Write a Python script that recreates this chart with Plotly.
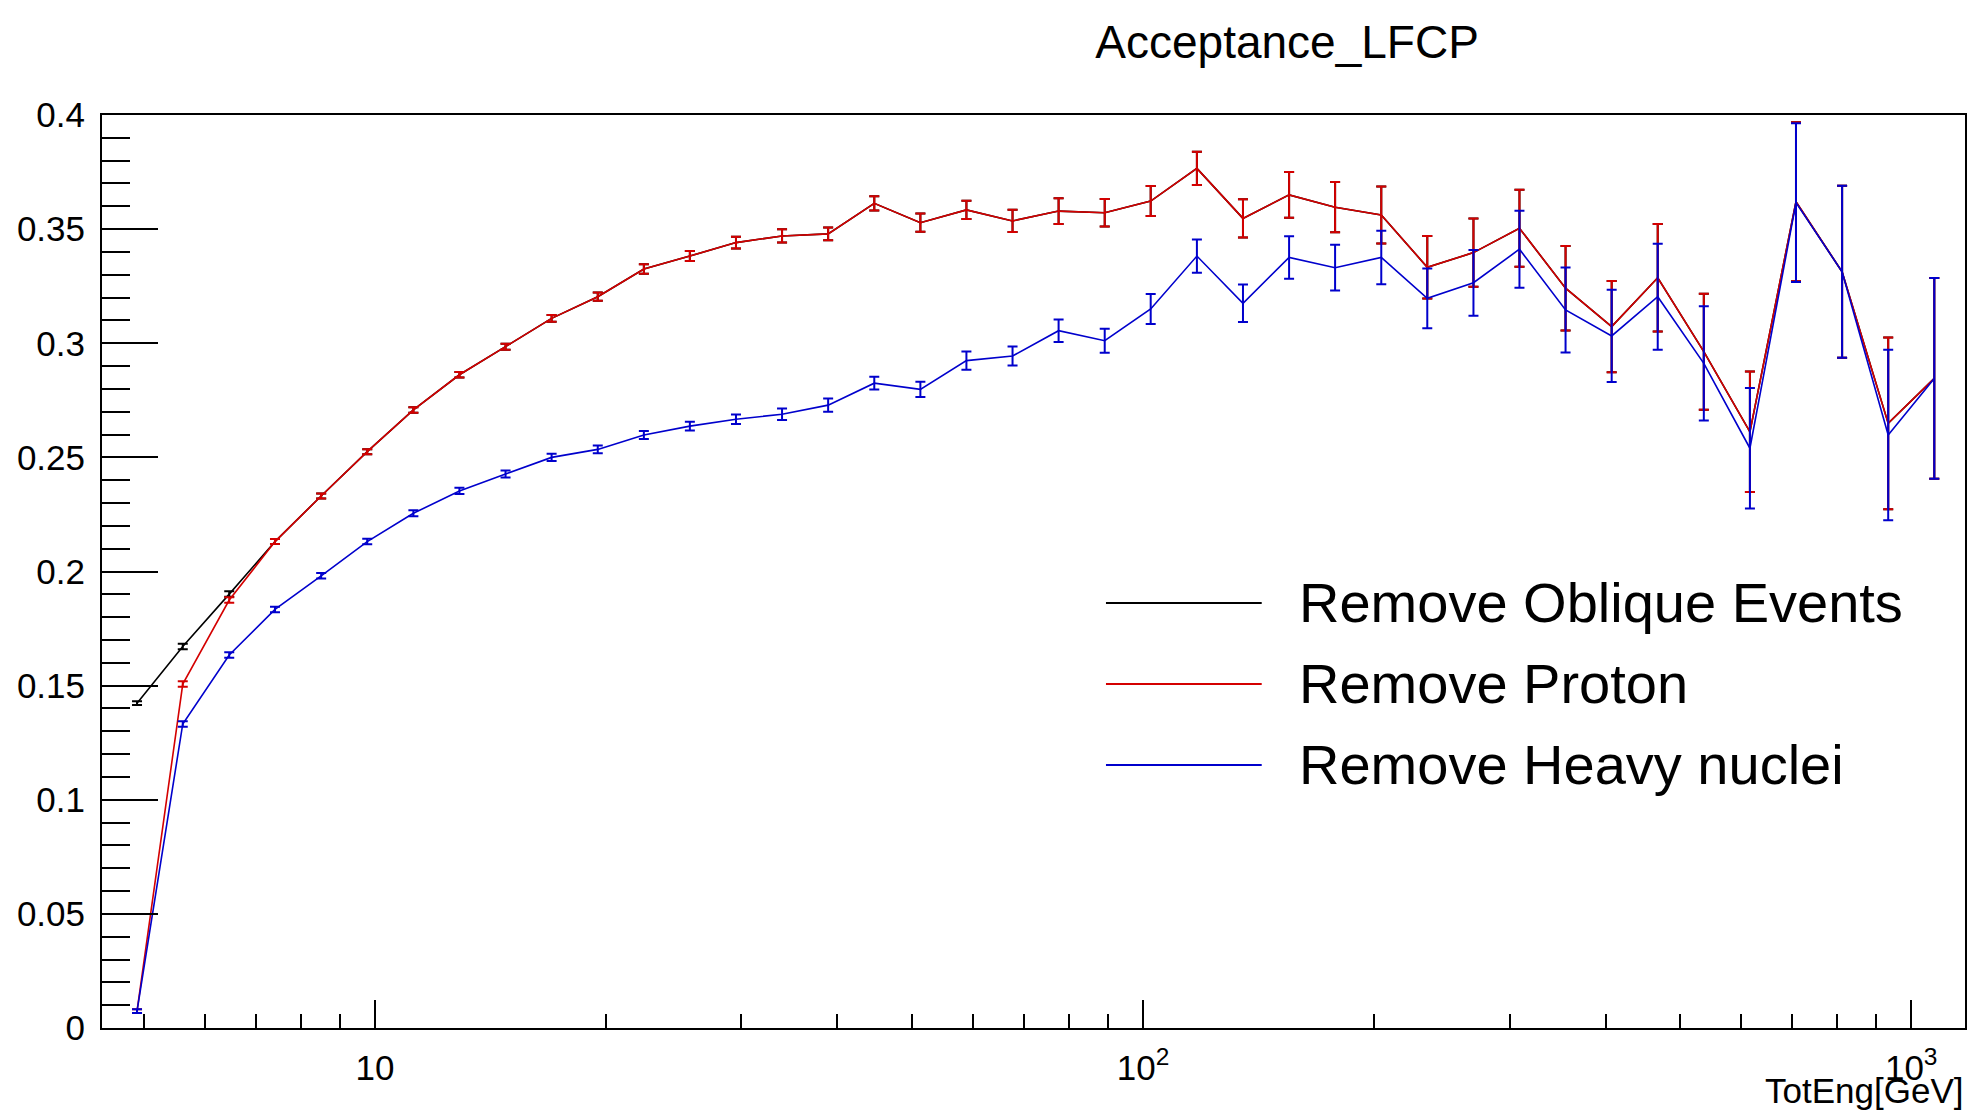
import plotly.graph_objects as go

# bin centres in GeV
energy = [4.90, 5.62, 6.46, 7.41, 8.51, 9.77, 11.22, 12.88, 14.79, 16.98,
          19.50, 22.39, 25.70, 29.51, 33.88, 38.90, 44.67, 51.29, 58.88, 67.61,
          77.62, 89.13, 102.3, 117.5, 134.9, 154.9, 177.8, 204.2, 234.4, 269.2,
          309.0, 354.8, 407.4, 467.7, 537.0, 616.6, 707.9, 812.8, 933.3, 1071.5]

proton = [0.0074, 0.1507, 0.1875, 0.2131, 0.2331, 0.2525, 0.2708, 0.2862, 0.2985, 0.3109,
          0.3204, 0.3325, 0.3382, 0.3441, 0.3470, 0.3479, 0.3613, 0.3528, 0.3584, 0.3536,
          0.3579, 0.3572, 0.3623, 0.3766, 0.3547, 0.3650, 0.3596, 0.3562, 0.3333, 0.3397,
          0.3504, 0.3241, 0.3073, 0.3287, 0.2963, 0.2612, 0.3620, 0.3313, 0.2649, 0.2846]
proton_err = [0.0008, 0.0012, 0.0012, 0.0011, 0.0011, 0.0011, 0.0012, 0.0012, 0.0013, 0.0015,
              0.0018, 0.0021, 0.0022, 0.0026, 0.0029, 0.0028, 0.0031, 0.0040, 0.0040, 0.0049,
              0.0056, 0.0060, 0.0066, 0.0073, 0.0084, 0.0100, 0.0110, 0.0125, 0.0137, 0.0150,
              0.0169, 0.0185, 0.0200, 0.0236, 0.0254, 0.0264, 0.0348, 0.0377, 0.0376, 0.0440]

# oblique events: differs from proton only in the first bins
oblique = [0.1423, 0.1671, 0.1901, 0.2131, 0.2331, 0.2525, 0.2708, 0.2862, 0.2985, 0.3109,
           0.3204, 0.3325, 0.3382, 0.3441, 0.3470, 0.3479, 0.3613, 0.3528, 0.3584, 0.3536,
           0.3579, 0.3572, 0.3623, 0.3766, 0.3547, 0.3650, 0.3596, 0.3562, 0.3333, 0.3397,
           0.3504, 0.3241, 0.3073, 0.3287, 0.2963, 0.2612, 0.3620, 0.3313, 0.2649, 0.2846]
oblique_err = [0.0008, 0.0012, 0.0012, 0.0011, 0.0011, 0.0011, 0.0012, 0.0012, 0.0013, 0.0015,
               0.0018, 0.0021, 0.0022, 0.0026, 0.0029, 0.0028, 0.0031, 0.0040, 0.0040, 0.0049,
               0.0056, 0.0060, 0.0066, 0.0073, 0.0084, 0.0100, 0.0110, 0.0125, 0.0137, 0.0150,
               0.0169, 0.0185, 0.0200, 0.0236, 0.0254, 0.0264, 0.0348, 0.0377, 0.0376, 0.0440]

heavy = [0.0074, 0.1332, 0.1634, 0.1834, 0.1981, 0.2131, 0.2255, 0.2353, 0.2427, 0.2500,
         0.2535, 0.2598, 0.2637, 0.2667, 0.2689, 0.2729, 0.2825, 0.2798, 0.2924, 0.2944,
         0.3055, 0.3011, 0.3150, 0.3382, 0.3175, 0.3376, 0.3331, 0.3376, 0.3197, 0.3265,
         0.3412, 0.3146, 0.3032, 0.3204, 0.2912, 0.2540, 0.3616, 0.3313, 0.2598, 0.2846]
heavy_err = [0.0008, 0.0012, 0.0012, 0.0012, 0.0012, 0.0012, 0.0013, 0.0014, 0.0015, 0.0016,
             0.0017, 0.0018, 0.0019, 0.0021, 0.0025, 0.0029, 0.0028, 0.0033, 0.0040, 0.0042,
             0.0049, 0.0053, 0.0066, 0.0073, 0.0082, 0.0093, 0.0100, 0.0117, 0.0131, 0.0144,
             0.0169, 0.0186, 0.0202, 0.0232, 0.0250, 0.0264, 0.0348, 0.0377, 0.0374, 0.0440]

names = ["Remove Oblique Events", "Remove Proton", "Remove Heavy nuclei"]
colors = ["#000000", "#d40000", "#0000cc"]

x_ticks = [10, 100, 1000]
x_ticktext = ["10", "10<sup>2</sup>", "10<sup>3</sup>"]
x_minor = [5, 6, 7, 8, 9, 20, 30, 40, 50, 60, 70, 80, 90,
           200, 300, 400, 500, 600, 700, 800, 900]

FONT = "Liberation Sans, Arial, Helvetica, sans-serif"

fig = go.Figure()
for y, err, name, color in zip([oblique, proton, heavy],
                               [oblique_err, proton_err, heavy_err], names, colors):
    fig.add_trace(go.Scatter(
        x=energy, y=y, name=name, mode="lines",
        line=dict(color=color, width=1.6),
        error_y=dict(type="data", array=err, color=color, thickness=2, width=5),
        showlegend=False,
    ))

# ROOT style legend: long line samples, no box
leg_y = [0.4655, 0.3768, 0.2881]
for name, color, yy in zip(names, colors, leg_y):
    fig.add_shape(type="line", xref="paper", yref="paper",
                  x0=0.5389, x1=0.6225, y0=yy, y1=yy,
                  line=dict(color=color, width=2))
    fig.add_annotation(xref="paper", yref="paper", x=0.6413, y=yy,
                       xanchor="left", yanchor="middle", showarrow=False,
                       text=name, font=dict(size=56, color="black", family=FONT))

fig.add_annotation(xref="paper", yref="paper", x=1.0, y=-0.0690,
                   xanchor="right", yanchor="middle", showarrow=False,
                   text="TotEng[GeV]", font=dict(size=35, color="black", family=FONT))

fig.update_layout(
    width=1971, height=1111,
    margin=dict(l=102, r=4, t=115, b=83),
    paper_bgcolor="white", plot_bgcolor="white",
    font=dict(family=FONT, color="black"),
    title=dict(text="Acceptance_LFCP", x=0.653, xanchor="center",
               y=0.962, yanchor="middle", font=dict(size=46, color="black")),
    xaxis=dict(type="log", range=[0.6446, 3.0700],
               tickvals=x_ticks, ticktext=x_ticktext,
               ticks="inside", ticklen=28, tickwidth=2, tickcolor="black",
               minor=dict(tickvals=x_minor, ticks="inside", ticklen=14,
                          tickwidth=2, tickcolor="black"),
               tickfont=dict(size=35, color="black"), ticklabelstandoff=8,
               showline=True, mirror=True, linecolor="black", linewidth=2,
               showgrid=False, zeroline=False),
    yaxis=dict(range=[0, 0.4], tick0=0, dtick=0.05,
               ticks="inside", ticklen=56, tickwidth=2, tickcolor="black",
               minor=dict(dtick=0.01, ticks="inside", ticklen=28,
                          tickwidth=2, tickcolor="black"),
               tickfont=dict(size=35, color="black"), ticklabelstandoff=8,
               showline=True, mirror=True, linecolor="black", linewidth=2,
               showgrid=False, zeroline=False),
)

fig.write_html("out.html", config={"displayModeBar": False},
               post_script="document.body.style.margin='0';")
